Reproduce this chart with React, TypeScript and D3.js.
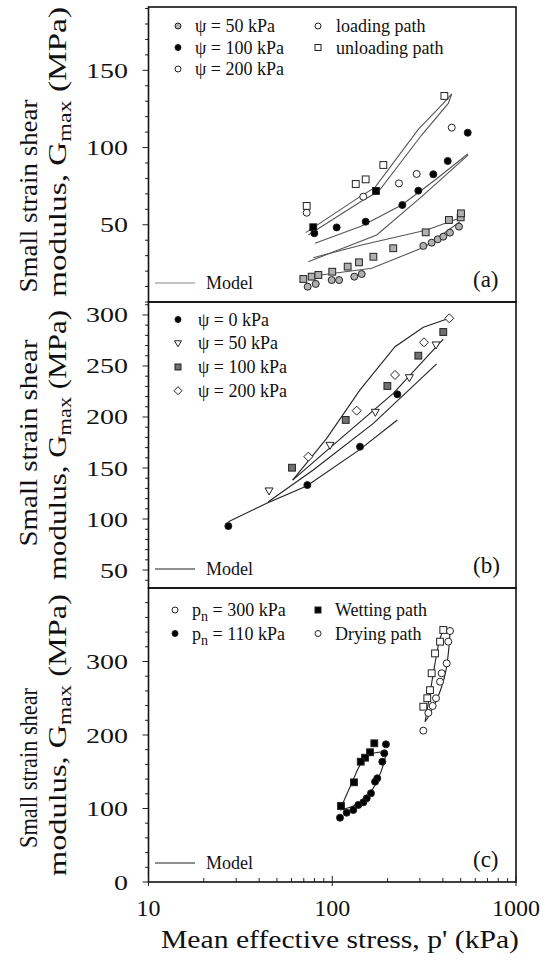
import { useEffect, useRef } from 'react';
import * as d3 from 'd3';

type Pt = [number, number];

// ---- panel (a): psi series, loading / unloading ----
const a50Load: Pt[] = [[73.5, 9.9], [81.3, 11.7], [99.3, 14.2], [108.9, 14.2], [131.9, 16.4], [144.6, 18.1], [313, 36.3], [347.5, 38.4], [375, 40.6], [402, 42.3], [437, 44.9], [489.5, 48.8]];
const a50Unload: Pt[] = [[69.6, 14.9], [77.3, 16.4], [84, 17.5], [100, 19.6], [121.3, 22.9], [139.8, 25.7], [167.4, 29.3], [214.8, 34.8], [322.5, 45.1], [431.6, 53.1], [500, 54.8], [502, 57.4]];
const a100Load: Pt[] = [[79.9, 44.5], [105.7, 48.3], [152, 52], [240.6, 62.8], [294, 72.1], [354.8, 82.7], [425, 91.3], [546, 109.6]];
const a100Unload: Pt[] = [[78.8, 48.4], [173, 71.9]];
const a200Load: Pt[] = [[72.6, 57.8], [147.5, 68.2], [230.7, 76.8], [288, 82.9], [447, 112.9]];
const a200Unload: Pt[] = [[72.6, 62.2], [134.2, 76.4], [152, 79.4], [189.6, 88.7], [407.5, 133.4]];
const aModels: Pt[][] = [
  [[74.1, 43.4], [147.6, 66], [178, 71.4], [306.6, 108.1], [428, 128.6], [446.7, 134.7]],
  [[71.7, 44.9], [141.6, 68.2], [170.9, 74.2], [294, 111.8], [402, 128.6], [446.7, 134.7]],
  [[80.6, 38.0], [144.6, 49.2], [238.8, 62.8], [362.6, 79.0], [546, 95.8]],
  [[74.1, 26.1], [174.6, 43.4], [306.6, 68.2], [550, 95.2]],
  [[78.8, 28.7], [144.6, 36.9], [326.6, 46.6], [516.6, 55.2]],
  [[78.8, 16.8], [164, 21.8], [320, 35.8], [495.6, 52]],
];

// ---- panel (b): psi = 0, 50, 100, 200 kPa ----
const b0: Pt[] = [[27.2, 93.1], [73.2, 133.3], [141.6, 170.9], [226, 222.2]];
const b50: Pt[] = [[45.3, 127.5], [97.2, 172.2], [171.6, 204.6], [262.8, 238.5], [367, 270.6]];
const b100: Pt[] = [[60.4, 150.3], [118.4, 197.1], [199.5, 230.4], [294, 260.1], [402, 283.3]];
const b200: Pt[] = [[74.1, 161.1], [135.8, 206.2], [219.6, 241.2], [315.7, 273.2], [433.5, 296.7]];
const bModels: Pt[][] = [
  [[27.2, 97.4], [44, 115.4], [72.6, 132.4], [141.6, 168.3], [226, 197.1]],
  [[44.9, 117], [78.8, 148], [167.4, 193.8], [370, 252]],
  [[60.9, 138.2], [119.8, 184], [214.9, 223.2], [402, 276.2]],
  [[60.9, 138.2], [93.3, 179.1], [141.6, 226.5], [219.6, 268.9], [313, 288], [433.5, 296.7]],
];

// ---- panel (c): pn = 300 / 110 kPa, wetting / drying ----
const c300Wet: Pt[] = [[402, 342.9], [386, 327], [362.5, 311], [347.6, 284], [340.4, 261], [329, 250], [313, 238.5]];
const c300Dry: Pt[] = [[437.4, 341.5], [428, 327], [419.6, 297.5], [394, 284], [386, 272.5], [367, 250], [352, 239.5], [333.4, 230], [313, 205.9]];
const c110Wet: Pt[] = [[169.4, 188.7], [160.5, 176.5], [150.8, 169.1], [142.9, 163.7], [131.3, 135.6], [111.6, 103.4]];
const c110Dry: Pt[] = [[196, 187.3], [191.9, 175.1], [187.2, 163.7], [175.8, 141.1], [171, 136.5], [162.5, 120.7], [154, 113.9], [147.6, 108.4], [138.6, 104.8], [130.2, 98], [119.8, 94.3], [110.2, 87.5]];
const cModels: Pt[][] = [
  [[320, 218], [340.4, 256.7], [362.5, 297.5], [386, 331.5], [405.5, 343.8]],
  [[437.4, 342.9], [433.5, 324.7], [416, 288.4], [394, 265.7], [362.5, 243], [333.4, 224.9], [320, 218]],
  [[110.2, 98], [127.6, 134.3], [144.6, 162.3], [167.4, 175.1], [197.7, 177.3]],
  [[197.7, 177.3], [189.6, 159.2], [178, 141.1], [160.5, 120.7], [141.6, 107.9], [125, 101.6], [110.2, 98]],
];

const xTicks = [10, 100, 1000];
const aYTicks = [50, 100, 150];
const bYTicks = [50, 100, 150, 200, 250, 300];
const cYTicks = [0, 100, 200, 300];

const FONT = '"Liberation Serif", serif';

const App = () => {
  const ref = useRef<SVGSVGElement>(null);

  useEffect(() => {
    const svg = d3.select(ref.current);
    svg.selectAll('*').remove();

    const left = 148.5, right = 516;
    const x = d3.scaleLog().domain([10, 1000]).range([left, right]);

    const panels = [
      { top: 7, bottom: 302, domain: [0, 191], ticks: aYTicks, minor: 10, tag: '(a)' },
      { top: 302, bottom: 588, domain: [32.4, 312.7], ticks: bYTicks, minor: 10, tag: '(b)' },
      { top: 588, bottom: 882, domain: [0, 400], ticks: cYTicks, minor: 20, tag: '(c)' },
    ];
    const ys = panels.map((p) => d3.scaleLinear().domain(p.domain).range([p.bottom, p.top]));

    const line = (y: d3.ScaleLinear<number, number>, curve: d3.CurveFactory = d3.curveLinear) =>
      d3.line<Pt>().x((d) => x(d[0])).y((d) => y(d[1])).curve(curve);

    // marker helper
    const mark = (g: any, data: Pt[], y: any, shape: string, fill: string, size = 1) => {
      const sel = g.append('g').attr('stroke', '#222').attr('stroke-width', 1).attr('fill', fill);
      data.forEach((d) => {
        const cx = x(d[0]), cy = y(d[1]);
        if (shape === 'circle') sel.append('circle').attr('cx', cx).attr('cy', cy).attr('r', 3.5 * size);
        else if (shape === 'square') sel.append('rect').attr('x', cx - 3.4 * size).attr('y', cy - 3.4 * size).attr('width', 6.8 * size).attr('height', 6.8 * size);
        else if (shape === 'tri')
          sel.append('path').attr('d', `M${cx - 4 * size},${cy - 3 * size}L${cx + 4 * size},${cy - 3 * size}L${cx},${cy + 4 * size}Z`);
        else if (shape === 'diamond')
          sel.append('path').attr('d', `M${cx},${cy - 4.5 * size}L${cx + 4.5 * size},${cy}L${cx},${cy + 4.5 * size}L${cx - 4.5 * size},${cy}Z`);
      });
    };

    const legendSym = (g: any, cx: number, cy: number, shape: string, fill: string) => {
      const s = g.append('g').attr('stroke', '#222').attr('stroke-width', 1).attr('fill', fill);
      if (shape === 'circle') s.append('circle').attr('cx', cx).attr('cy', cy).attr('r', 3);
      else if (shape === 'square') s.append('rect').attr('x', cx - 3).attr('y', cy - 3).attr('width', 6).attr('height', 6);
      else if (shape === 'tri') s.append('path').attr('d', `M${cx - 3.5},${cy - 2.5}L${cx + 3.5},${cy - 2.5}L${cx},${cy + 3.5}Z`);
      else if (shape === 'diamond') s.append('path').attr('d', `M${cx},${cy - 4}L${cx + 4},${cy}L${cx},${cy + 4}L${cx - 4},${cy}Z`);
    };

    const text = (g: any, tx: number, ty: number, s: string, size = 18, anchor = 'start') =>
      g.append('text').attr('x', tx).attr('y', ty).attr('font-size', size).attr('text-anchor', anchor).attr('font-family', FONT).attr('fill', '#111').text(s);

    panels.forEach((p, i) => {
      const y = ys[i];
      const g = svg.append('g');
      // y ticks
      const minors = d3.range(Math.ceil(p.domain[0] / p.minor) * p.minor, p.domain[1], p.minor);
      minors.forEach((v) => {
        const major = p.ticks.includes(v);
        g.append('line').attr('x1', left - (major ? 6 : 3.5)).attr('x2', left).attr('y1', y(v)).attr('y2', y(v)).attr('stroke', '#222').attr('stroke-width', 1);
      });
      p.ticks.forEach((v) => {
        const s = String(v);
        text(g, 128, y(v) + 7.5, s, 22, 'end').attr('textLength', s.length * 14).attr('lengthAdjust', 'spacingAndGlyphs');
      });
      // frame
      g.append('rect').attr('x', left).attr('y', p.top).attr('width', right - left).attr('height', p.bottom - p.top).attr('fill', 'none').attr('stroke', '#111').attr('stroke-width', 1.6);
      // model legend + tag
      const ly = p.bottom - 19;
      g.append('line').attr('x1', 155).attr('x2', 195).attr('y1', ly).attr('y2', ly).attr('stroke', i === 0 ? '#888' : '#222').attr('stroke-width', 1.2);
      text(g, 206, ly + 6, 'Model', 18);
      text(g, 473, p.bottom - 15, p.tag, 23);
    });

    // ---- panel (a) ----
    {
      const y = ys[0];
      const g = svg.append('g');
      aModels.forEach((m) => g.append('path').attr('d', line(y)(m)).attr('fill', 'none').attr('stroke', '#555').attr('stroke-width', 1.1));
      mark(g, a50Unload, y, 'square', '#b0b0b0');
      mark(g, a50Load, y, 'circle', '#b0b0b0');
      mark(g, a100Load, y, 'circle', '#000');
      mark(g, a100Unload, y, 'square', '#000');
      mark(g, a200Load, y, 'circle', '#fff');
      mark(g, a200Unload, y, 'square', '#fff');
      const rows = [26, 47.5, 69];
      legendSym(g, 178, rows[0], 'circle', '#b0b0b0');
      legendSym(g, 178, rows[1], 'circle', '#000');
      legendSym(g, 178, rows[2], 'circle', '#fff');
      text(g, 195, rows[0] + 6, 'ψ = 50 kPa');
      text(g, 195, rows[1] + 6, 'ψ = 100 kPa');
      text(g, 195, rows[2] + 6, 'ψ = 200 kPa');
      legendSym(g, 318, rows[0], 'circle', '#fff');
      legendSym(g, 318, rows[1], 'square', '#fff');
      text(g, 336, rows[0] + 6, 'loading path');
      text(g, 336, rows[1] + 6, 'unloading path');
    }

    // ---- panel (b) ----
    {
      const y = ys[1];
      const g = svg.append('g');
      bModels.forEach((m) => g.append('path').attr('d', line(y)(m)).attr('fill', 'none').attr('stroke', '#222').attr('stroke-width', 1.1));
      mark(g, b0, y, 'circle', '#000');
      mark(g, b50, y, 'tri', '#fff');
      mark(g, b100, y, 'square', '#707070');
      mark(g, b200, y, 'diamond', '#fff');
      const rows = [319.5, 343.3, 367, 390.7];
      const labels = ['ψ = 0 kPa', 'ψ = 50 kPa', 'ψ = 100 kPa', 'ψ = 200 kPa'];
      const shapes: [string, string][] = [['circle', '#000'], ['tri', '#fff'], ['square', '#707070'], ['diamond', '#fff']];
      rows.forEach((r, k) => {
        legendSym(g, 178, r, shapes[k][0], shapes[k][1]);
        text(g, 198, r + 6, labels[k]);
      });
    }

    // ---- panel (c) ----
    {
      const y = ys[2];
      const g = svg.append('g');
      cModels.forEach((m) => g.append('path').attr('d', line(y, d3.curveCatmullRom)(m)).attr('fill', 'none').attr('stroke', '#222').attr('stroke-width', 1.1));
      mark(g, c300Wet, y, 'square', '#fff');
      mark(g, c300Dry, y, 'circle', '#fff');
      mark(g, c110Wet, y, 'square', '#000');
      mark(g, c110Dry, y, 'circle', '#000');
      const rows = [610, 633.5];
      legendSym(g, 175, rows[0], 'circle', '#fff');
      legendSym(g, 175, rows[1], 'circle', '#000');
      [0, 1].forEach((k) => {
        const t = text(g, 192, rows[k] + 6, '');
        t.append('tspan').text('p');
        t.append('tspan').attr('font-size', 14).attr('dy', 5).text('n');
        t.append('tspan').attr('dy', -5).text(k === 0 ? ' = 300 kPa' : ' = 110 kPa');
      });
      legendSym(g, 318, rows[0], 'square', '#000');
      legendSym(g, 318, rows[1], 'circle', '#fff');
      text(g, 335, rows[0] + 6, 'Wetting path');
      text(g, 335, rows[1] + 6, 'Drying path');
    }

    // ---- x axis at bottom of (c) ----
    {
      const g = svg.append('g');
      const bottom = 882;
      x.ticks().forEach((v) => {
        const major = xTicks.includes(v);
        g.append('line').attr('x1', x(v)).attr('x2', x(v)).attr('y1', bottom + (major ? 4 : 0)).attr('y2', bottom - (major ? 6 : 4)).attr('stroke', '#222').attr('stroke-width', 1);
      });
      xTicks.forEach((v) => text(g, x(v), 916, String(v), 24, 'middle'));
      text(g, 340, 948, "Mean effective stress, p' (kPa)", 25, 'middle').attr('textLength', 358).attr('lengthAdjust', 'spacingAndGlyphs');
    }

    // ---- y titles ----
    const titles = [
      { l1: 196, len1: 193, l2: 152, len2: 290 },
      { l1: 443, len1: 207, l2: 445, len2: 270 },
      { l1: 768, len1: 160, l2: 735, len2: 282 },
    ];
    titles.forEach((t) => {
      svg.append('text').attr('transform', `translate(37,${t.l1}) rotate(-90)`).attr('text-anchor', 'middle').attr('font-family', FONT).attr('font-size', 25).attr('fill', '#111')
        .attr('textLength', t.len1).attr('lengthAdjust', 'spacingAndGlyphs').text('Small strain shear');
      const t2 = svg.append('text').attr('transform', `translate(66,${t.l2}) rotate(-90)`).attr('text-anchor', 'middle').attr('font-family', FONT).attr('font-size', 25).attr('fill', '#111')
        .attr('textLength', t.len2).attr('lengthAdjust', 'spacingAndGlyphs');
      t2.append('tspan').text('modulus, G');
      t2.append('tspan').attr('font-size', 18).attr('dy', 5).text('max');
      t2.append('tspan').attr('dy', -5).text(' (MPa)');
    });
  }, []);

  return <svg ref={ref} width={545} height={960} style={{ position: 'absolute', left: 0, top: 0, background: '#fff' }} />;
};

export default App;
